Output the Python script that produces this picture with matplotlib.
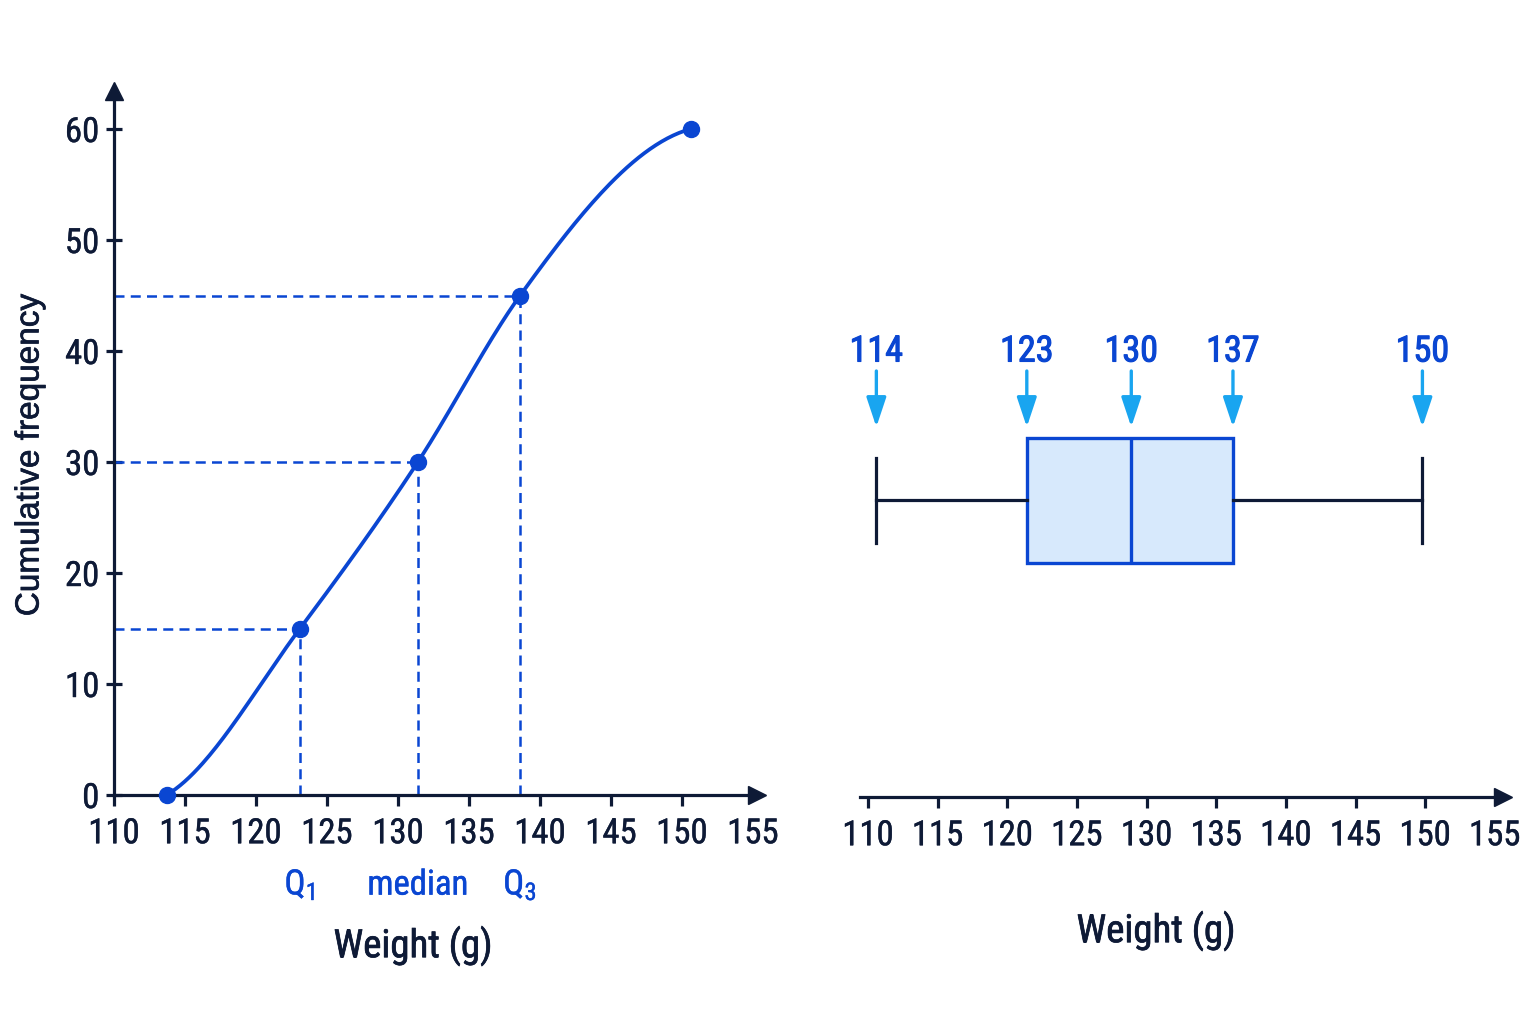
import matplotlib
matplotlib.use("Agg")
import matplotlib.pyplot as plt
import matplotlib.patheffects as pe
from matplotlib import font_manager
import numpy as np

# cumulative frequency curve (points as drawn)
cf_weight = [113.7, 123.1, 131.4, 138.6, 150.6]
cf_freq = [0, 15, 30, 45, 60]
quartile_idx = [1, 2, 3]
quartile_names = [r"Q$_{\mathrm{1}}$", "median", r"Q$_{\mathrm{3}}$"]

# box plot five-number summary (positions as drawn) and their labels
box_stats = [110.6, 121.4, 128.9, 136.2, 149.8]
box_labels = ["114", "123", "130", "137", "150"]

x_ticks = [110, 115, 120, 125, 130, 135, 140, 145, 150]
y_ticks = [0, 10, 20, 30, 40, 50, 60]

NAVY = "#0e1a36"
BLUE = "#0a46d2"
SKY = "#19a5f0"
FILL = "#d7e9fc"

# look for a condensed face, otherwise Roboto
names = sorted({f.name for f in font_manager.fontManager.ttflist})
preferred = ["Roboto Condensed", "Liberation Sans Narrow", "DejaVu Sans Condensed",
             "Open Sans Condensed", "Noto Sans Condensed"]
narrow = [n for n in preferred if n in names]
narrow += [n for n in names if "Narrow" in n or "Condensed" in n]
NARROW_NAME = narrow[0] if narrow else "Roboto"
NARROW = [NARROW_NAME, "DejaVu Sans"]

plt.rcParams["mathtext.fontset"] = "custom"
plt.rcParams["mathtext.rm"] = NARROW_NAME


def heavy(color, w):
    return [pe.withStroke(linewidth=w, foreground=color)]


def hermite_curve(x, y, m_start, m_end, n=60):
    x = np.asarray(x, float)
    y = np.asarray(y, float)
    h = np.diff(x)
    d = np.diff(y) / h
    m = np.zeros_like(x)
    m[1:-1] = (h[1:] * d[:-1] + h[:-1] * d[1:]) / (h[:-1] + h[1:])
    m[0] = m_start
    m[-1] = m_end
    xs, ys = [], []
    for i in range(len(h)):
        t = np.linspace(0, 1, n)
        h00 = 2 * t**3 - 3 * t**2 + 1
        h10 = t**3 - 2 * t**2 + t
        h01 = -2 * t**3 + 3 * t**2
        h11 = t**3 - t**2
        xs.append(x[i] + t * h[i])
        ys.append(h00 * y[i] + h10 * h[i] * m[i] + h01 * y[i + 1] + h11 * h[i] * m[i + 1])
    return np.concatenate(xs), np.concatenate(ys)


fig = plt.figure(figsize=(15.36, 10.24), dpi=100)

# ---------- left: cumulative frequency ----------
ax = fig.add_axes([114 / 1536, 1 - 795 / 1024, 643 / 1536, 704 / 1024])
ax.set_xlim(110, 110 + 643 / 14.2)
ax.set_ylim(0, 704 / 11.1)
for s in ["top", "right"]:
    ax.spines[s].set_visible(False)
for s in ["left", "bottom"]:
    ax.spines[s].set_color(NAVY)
    ax.spines[s].set_linewidth(2.3)
ax.plot([1], [0], marker=">", ms=13, color=NAVY, transform=ax.transAxes, clip_on=False)
ax.plot([0], [1], marker="^", ms=13, color=NAVY, transform=ax.transAxes, clip_on=False)

ax.set_xticks(x_ticks)
ax.set_xticks([155], labels=["155"], minor=True)
ax.set_yticks(y_ticks)
ax.tick_params(axis="x", which="major", direction="out", length=8, width=2.3, color=NAVY, pad=8)
ax.tick_params(axis="x", which="minor", length=0, pad=16)
ax.tick_params(axis="y", direction="inout", length=11, width=2.3, color=NAVY, pad=5)
for lab in ax.get_xticklabels(which="both") + ax.get_yticklabels():
    lab.set_family(NARROW)
    lab.set_fontsize(25)
    lab.set_color(NAVY)
    lab.set_path_effects(heavy(NAVY, 0.3))

cx, cy = hermite_curve(cf_weight, cf_freq, 0.75, 0.35)
ax.plot(cx, cy, color=BLUE, lw=2.7, zorder=3)
ax.plot(cf_weight, cf_freq, "o", color=BLUE, ms=11.5, zorder=4, clip_on=False)

for i, name in zip(quartile_idx, quartile_names):
    qx, qy = cf_weight[i], cf_freq[i]
    ax.plot([110, qx], [qy, qy], color=BLUE, lw=1.8, ls=(0, (4, 2.5)), zorder=2)
    ax.plot([qx, qx], [0, qy], color=BLUE, lw=1.8, ls=(0, (4, 2.5)), zorder=2)
    ax.text(qx, -0.128, name, transform=ax.get_xaxis_transform(), ha="center", va="center",
            fontsize=25, color=BLUE, family=NARROW, path_effects=heavy(BLUE, 0.3))

fig.text(413 / 1536, 1 - 946 / 1024, "Weight (g)", ha="center", va="center",
         fontsize=28, color=NAVY, family=NARROW, path_effects=heavy(NAVY, 0.5))
fig.text(30 / 1536, 1 - 455 / 1024, "Cumulative frequency", rotation=90, ha="center",
         va="center", fontsize=24, color=NAVY, family=["Liberation Sans", "DejaVu Sans"],
         path_effects=heavy(NAVY, 0.5))

# ---------- right: box plot ----------
bx = fig.add_axes([860 / 1536, 1 - 797 / 1024, 643 / 1536, 500 / 1024])
for s in ["top", "right", "left"]:
    bx.spines[s].set_visible(False)
bx.spines["bottom"].set_color(NAVY)
bx.spines["bottom"].set_linewidth(2.3)
bx.plot([1], [0], marker=">", ms=13, color=NAVY, transform=bx.transAxes, clip_on=False)

stats = [dict(whislo=box_stats[0], q1=box_stats[1], med=box_stats[2],
              q3=box_stats[3], whishi=box_stats[4], fliers=[])]
bx.bxp(stats, positions=[0.594], widths=0.25, orientation="horizontal",
       patch_artist=True, showfliers=False, capwidths=0.17,
       boxprops=dict(facecolor=FILL, edgecolor=BLUE, lw=2.4),
       medianprops=dict(color=BLUE, lw=2.4),
       whiskerprops=dict(color=NAVY, lw=2.3),
       capprops=dict(color=NAVY, lw=2.3))
bx.set_yticks([])
bx.set_ylim(0, 1)
bx.set_xlim(110 - 8 / 13.93, 110 - 8 / 13.93 + 643 / 13.93)
bx.set_xticks(x_ticks)
bx.set_xticks([155], labels=["155"], minor=True)
bx.tick_params(axis="x", which="major", direction="out", length=8, width=2.3, color=NAVY, pad=8)
bx.tick_params(axis="x", which="minor", length=0, pad=16)
for lab in bx.get_xticklabels(which="both"):
    lab.set_family(NARROW)
    lab.set_fontsize(25)
    lab.set_color(NAVY)
    lab.set_path_effects(heavy(NAVY, 0.3))

for v, lab in zip(box_stats, box_labels):
    bx.annotate("", xy=(v, 0.74), xytext=(v, 0.852),
                arrowprops=dict(arrowstyle="-|>,head_length=0.9,head_width=0.3",
                                color=SKY, lw=2.4, mutation_scale=20, shrinkA=0, shrinkB=0))
    bx.text(v, 0.891, lab, ha="center", va="center", fontsize=26, color=BLUE,
            family=NARROW, path_effects=heavy(BLUE, 0.8))

fig.text(1156 / 1536, 1 - 931 / 1024, "Weight (g)", ha="center", va="center",
         fontsize=28, color=NAVY, family=NARROW, path_effects=heavy(NAVY, 0.5))

fig.savefig("out.png", dpi=100, facecolor="white")
